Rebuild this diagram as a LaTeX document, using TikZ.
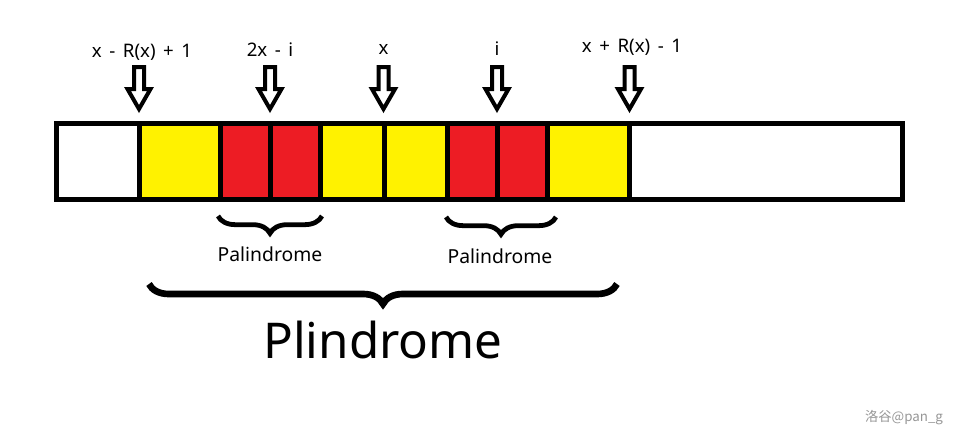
\documentclass[tikz,border=0pt]{standalone}
\usepackage{fontspec}
\setmainfont{Noto Sans}
\newfontfamily\idxfont[WordSpace=1.55]{Noto Sans}
\newfontfamily\cjkfont{Noto Sans CJK SC}
\usepackage{xcolor}
\usepackage{tikz}
\usetikzlibrary{decorations.pathreplacing}

\definecolor{cellyellow}{RGB}{255,242,0}
\definecolor{cellred}{RGB}{237,28,36}
\definecolor{markgray}{RGB}{150,150,150}

\begin{document}
\begin{tikzpicture}[x=0.75pt,y=-0.75pt,
    cell/.style={draw=black, line width=3.75pt},
    pointer/.style={draw=black, fill=white, line width=3pt, line join=miter},
    idxlabel/.style={font=\idxfont\fontsize{14}{16}\selectfont, anchor=base},
    bracetext/.style={font=\fontsize{14.5}{17}\selectfont, anchor=base},
    smallbrace/.style={decorate, decoration={brace, amplitude=13pt}, line width=3.6pt},
    bigbrace/.style={decorate, decoration={brace, amplitude=15pt}, line width=5pt}]
\useasboundingbox (0,0) rectangle (958,437);

% Cells of the string
\foreach \xa/\xb/\c in {56.5/139/white, 139/220.5/cellyellow, 220.5/270.5/cellred,
    270.5/320.5/cellred, 320.5/384/cellyellow, 384/447.5/cellyellow,
    447.5/497/cellred, 497/547/cellred, 547/629.5/cellyellow, 629.5/902.5/white} {
    \draw[cell, fill=\c] (\xa,123) rectangle (\xb,199.5);
}

% Pointers and their labels
\foreach \cx/\lx/\ly/\txt [count=\k] in {139/142/57.3/{x - R(x) + 1}, 270/270/56.7/{2x - i},
    383.5/383.5/54/x, 497/497/55/i, 629.5/632/52.7/{x + R(x) - 1}} {
    \draw[pointer] (\cx-5,67) -- (\cx+5,67) -- (\cx+5,89) -- (\cx+11.5,89)
        -- (\cx,109) -- (\cx-11.5,89) -- (\cx-5,89) -- cycle;
    \node[idxlabel] (idx\k) at (\lx,\ly) {\txt};
}

% Small braces
\draw[smallbrace] (322,216) -- (218,216);
\draw[smallbrace] (556,217) -- (446,217);
\node[bracetext] (pal1) at (270,261.7) {Palindrome};
\node[bracetext] (pal2) at (500,263.3) {Palindrome};

% Big brace
\draw[bigbrace] (617,284) -- (149,284);
\node[font=\fontsize{37}{40}\selectfont, anchor=base] (plin) at (383,358) {Plindrome};

% Watermark
\node[font=\fontsize{10}{12}\selectfont, text=markgray, anchor=base] (mark) at (904,421.7) {\cjkfont 洛谷@pan\_g};
\end{tikzpicture}
\end{document}
